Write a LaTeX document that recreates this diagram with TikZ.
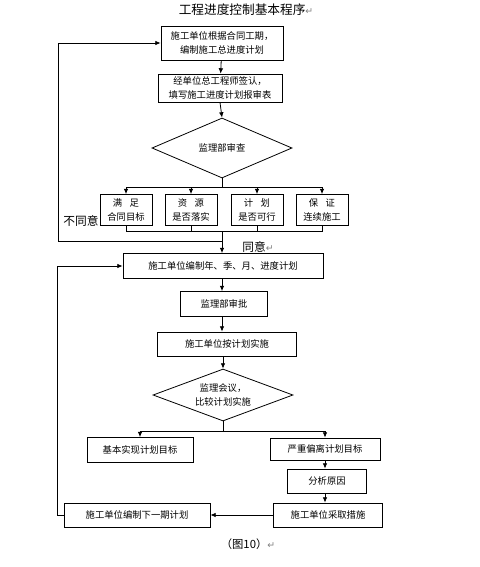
\documentclass[tikz,border=0pt]{standalone}
\usepackage{fontspec}
\setmainfont{Noto Sans CJK SC}
\newfontfamily\symfont{DejaVu Sans}
\usetikzlibrary{shapes.geometric,arrows.meta}
\begin{document}
\begin{tikzpicture}[x=0.75pt,y=-0.75pt,
  w/.style={minimum width=#1*0.75pt},
  h/.style={minimum height=#1*0.75pt},
  box/.style={draw,line width=0.6pt,inner sep=0pt,align=center,
    font=\fontsize{7}{10.5}\selectfont},
  dia/.style={draw,line width=0.6pt,shape=diamond,aspect=2.7,inner sep=0pt,
    align=center,font=\fontsize{7}{11}\selectfont},
  lbl/.style={inner sep=0pt,font=\fontsize{8.8}{10}\selectfont},
  ln/.style={line width=0.6pt},
  arr/.style={line width=0.6pt,-{Latex[length=4pt,width=3.5pt]}},
  pm/.style={text=gray}]
\useasboundingbox (0,0) rectangle (479,567);
\fill[white] (0,0) rectangle (479,567);

\node[lbl,font=\fontsize{9.5}{11}\selectfont] (title) at (246,10) {工程进度控制基本程序{\symfont\color{gray}\fontsize{7}{8}\selectfont ↵}};

\node[box,w=122,h=34] (b1) at (222,43) {施工单位根据合同工期，\\编制施工总进度计划};
\node[box,w=124,h=28] (b2) at (220,88) {经单位总工程师签认，\\填写施工进度计划报审表};
\node[dia,w=140,h=60] (d1) at (222,148) {监理部审查};

\node[box,w=52,h=31] (A) at (126,210) {满\hspace{0.8em}足\\合同目标};
\node[box,w=52,h=31] (B) at (191,210) {资\hspace{0.8em}源\\是否落实};
\node[box,w=52,h=31] (C) at (257,210) {计\hspace{0.8em}划\\是否可行};
\node[box,w=52,h=31] (D) at (322,210) {保\hspace{0.8em}证\\连续施工};

\coordinate (j1) at (222,187);
\coordinate (j2) at (222,231);
\coordinate (j3) at (222,241);
\coordinate (k1) at (58,241);

\node[box,w=200,h=25] (b3) at (223,266) {施工单位编制年、季、月、进度计划};
\node[box,w=87,h=25] (b4) at (224,304) {监理部审批};
\node[box,w=139,h=24] (b5) at (227,344) {施工单位按计划实施};
\node[dia,w=140,h=52] (d2) at (223,395) {监理会议，\\比较计划实施};
\coordinate (j4) at (223,431);

\node[box,w=106,h=25] (b6) at (140,450) {基本实现计划目标};
\node[box,w=110,h=22] (b7) at (325,449) {严重偏离计划目标};
\node[box,w=79,h=24] (b8) at (327,481) {分析原因};
\node[box,w=109,h=24] (b9) at (328,515) {施工单位采取措施};
\node[box,w=146,h=24] (b10) at (137,515) {施工单位编制下一期计划};
\coordinate (k2) at (57,515);

\node[lbl] (ty) at (81,221) {不同意};
\node[lbl] (tt) at (258,247) {同意{\symfont\color{gray}\fontsize{7}{8}\selectfont ↵}};
\node[lbl,font=\fontsize{8.5}{10}\selectfont] (cap) at (248,544) {（图10）{\symfont\color{gray}\fontsize{7}{8}\selectfont ↵}};

% connectors
\draw[arr] (b1) -- (b2);
\draw[arr] (b2.south) -- (d1.north);
\draw[ln] (d1.south) -- (j1);
\draw[arr] (j1) -| (A.north);
\draw[arr] (j1) -| (B.north);
\draw[arr] (j1) -| (C.north);
\draw[arr] (j1) -| (D.north);
\draw[ln] (A.south) |- (j2);
\draw[ln] (B.south) |- (j2);
\draw[ln] (C.south) |- (j2);
\draw[ln] (D.south) |- (j2);
\draw[ln] (j2) -- (j3);
\draw[arr] (j3) -- (k1) |- (b1.west);
\draw[arr] (j3) -- (j3 |- b3.north);
\draw[arr] (b3.south -| j3) -- (b4.north -| j3);
\draw[arr] (b4.south -| j3) -- (b5.north -| j3);
\draw[arr] (b5.south -| d2.north) -- (d2.north);
\draw[ln] (d2.south) -- (j4);
\draw[arr] (j4) -| (b6.north);
\draw[arr] (j4) -| (b7.north);
\draw[arr] (b7.south) -- (b7.south |- b8.north);
\draw[arr] (b7.south |- b8.south) -- (b7.south |- b9.north);
\draw[arr] (b9.west) -- (b10.east);
\draw[arr] (b10.west) -- (k2) |- (b3.west);
\end{tikzpicture}
\end{document}
